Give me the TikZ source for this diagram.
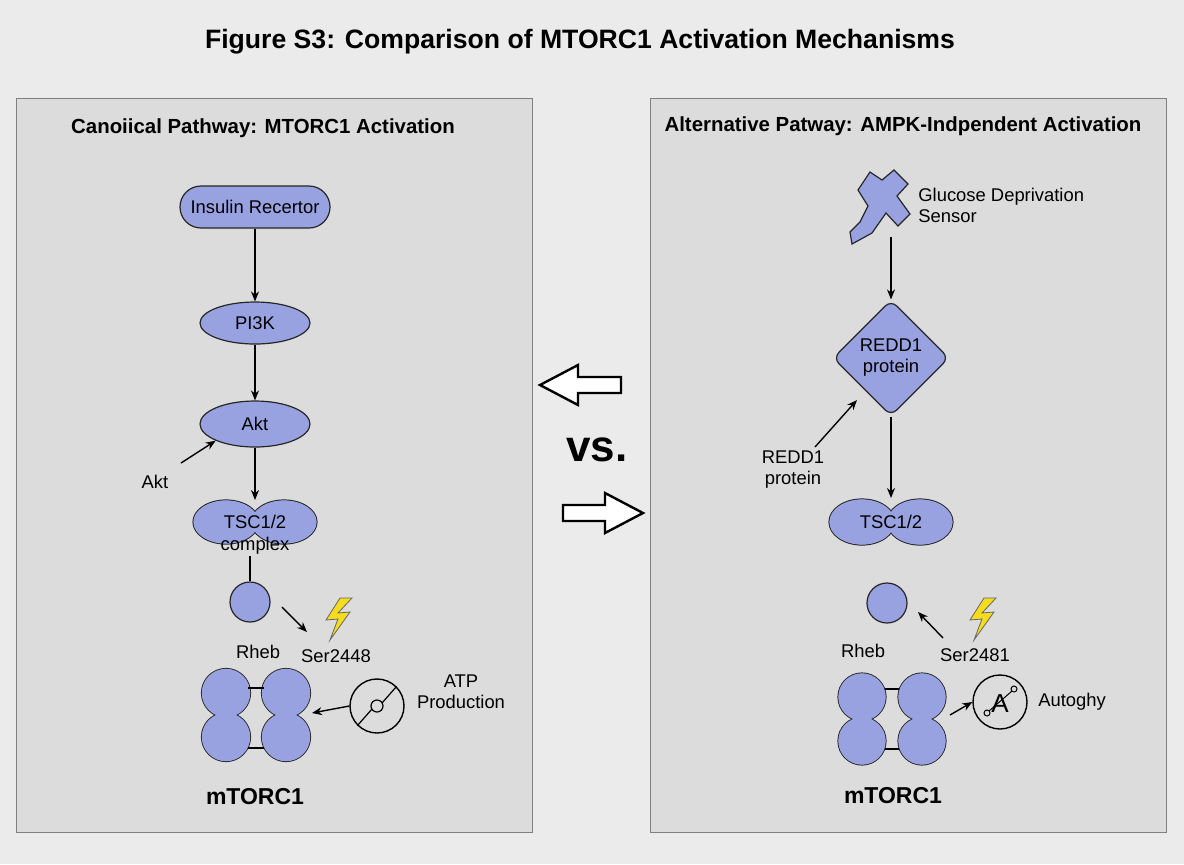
\documentclass[tikz,border=0pt]{standalone}
\usepackage{fontspec}
\setmainfont{Liberation Sans}
\usetikzlibrary{shapes.geometric,arrows.meta}
\definecolor{bgc}{HTML}{EBEBEB}
\definecolor{panel}{HTML}{DCDCDC}
\definecolor{prot}{HTML}{98A2E0}
\definecolor{bolt}{HTML}{F5DC1E}
\begin{document}
\begin{tikzpicture}[x=0.5pt,y=-0.5pt,
  lbl/.style={font=\fontsize{9.2}{10.5}\selectfont,align=center,inner sep=0pt},
  pr/.style={draw=black!85,line width=0.6pt,fill=prot},
  arr/.style={-{Stealth[length=5pt,width=4pt]},line width=0.7pt},
  hd/.style={font=\bfseries\fontsize{10.2}{12}\selectfont}]
\fill[bgc] (0,0) rectangle (1184,864);
\useasboundingbox (0,0) rectangle (1184,864);
\node[font=\bfseries\fontsize{13.3}{15}\selectfont] (title) at (580,42) {Figure S3: Comparison of MTORC1 Activation Mechanisms};
\draw[fill=panel,draw=gray] (16,98) rectangle (532,832);
\draw[fill=panel,draw=gray] (650,98) rectangle (1166,832);
\node[hd] (lh) at (263,128) {Canoiical Pathway: MTORC1 Activation};
\node[hd] (rh) at (903,126) {Alternative Patway: AMPK-Indpendent Activation};
% left
\node[pr,rounded corners=10.5pt,minimum width=75pt,minimum height=21pt,lbl] (ins) at (255,207) {Insulin Recertor};
\node[pr,ellipse,minimum width=55pt,minimum height=21pt,lbl] (pi3k) at (255,323) {PI3K};
\node[pr,ellipse,minimum width=55pt,minimum height=23pt,lbl] (akt) at (255,424) {Akt};
\node[lbl] (akt2) at (155,482) {Akt};
\draw[arr] (ins) -- (pi3k);
\draw[arr] (pi3k) -- (akt);
\coordinate (a0) at (181,463);
\draw[arr] (a0) -- (akt.south west);
\draw[pr] (226,522) ellipse (33 and 22) (284,522) ellipse (33 and 22);
\fill[prot] (226,522) ellipse (32.6 and 21.6) (284,522) ellipse (32.6 and 21.6);
\node[lbl] (tsc) at (255,522) {TSC1/2};
\node[lbl] (cpx) at (255,546) {complex};
\coordinate (tsctop) at (255,500);
\draw[arr] (akt) -- (tsctop);
\node[pr,circle,minimum size=20pt,inner sep=0pt] (rheb) at (250,602) {};
\draw[line width=0.7pt] (250,556) -- (rheb);
\node[lbl] (rhebl) at (258,652) {Rheb};
\node[lbl] (ser) at (336,656) {Ser2448};
\draw[arr] (282,607) -- (307,632);
\draw[fill=bolt,draw=black!60,line width=0.4pt] (340,598)--(326,620)--(338,619)--(330,640)--(350,612)--(338,613)--(352,598)--cycle;
\foreach \x/\n in {226/a,286/b}{
  \node[pr,circle,minimum size=24.5pt,inner sep=0pt] (m\n1) at (\x,693) {};
  \node[pr,circle,minimum size=24.5pt,inner sep=0pt] (m\n2) at (\x,737) {};
  \fill[prot] (\x,693) circle (24.2) (\x,737) circle (24.2);}
\draw[line width=0.6pt] (248,688) -- (264,688) (248,748) -- (264,748);
\node[circle,draw,line width=0.7pt,minimum size=27pt,inner sep=0pt] (atp) at (377,706) {};
\draw[line width=0.6pt] (377,706) circle (6) (atp.south west) -- (372,709) (382,703) -- (atp.north east);
\draw[arr] (atp.west) -- (312,713);
\node[lbl] (atpl) at (461,692) {ATP\\Production};
\node[font=\bfseries\fontsize{11.5}{13}\selectfont] (ml) at (255,797) {mTORC1};
% right
\draw[pr] (870,172)--(882,180)--(894,170)--(908,184)--(897,196)--(910,214)--(898,226)--(886,213)--(872,233)--(852,244)--(850,232)--(860,222)--(868,206)--(858,190)--cycle;
\coordinate (xs) at (891,237);
\node[lbl,anchor=west,align=left] (gds) at (918,205) {Glucose Deprivation\\Sensor};
\node[pr,diamond,rounded corners=4pt,minimum width=58pt,minimum height=58pt,inner sep=0pt,lbl] (redd) at (891,358) {REDD1\\protein};
\draw[arr] (xs) -- (redd.north);
\node[lbl] (redl) at (793,470) {REDD1\\protein};
\draw[arr] (815,447) -- (857,400);
\draw[pr] (862,522) ellipse (33 and 23) (920,522) ellipse (33 and 23);
\fill[prot] (862,522) ellipse (32.6 and 22.6) (920,522) ellipse (32.6 and 22.6);
\node[lbl] (tsc2) at (891,522) {TSC1/2};
\draw[arr] (redd.south) -- (891,498);
\node[pr,circle,minimum size=20pt,inner sep=0pt] (rheb2) at (887,603) {};
\node[lbl] (rhebl2) at (863,651) {Rheb};
\node[lbl] (ser2) at (975,655) {Ser2481};
\draw[arr] (943,638) -- (918,612);
\draw[fill=bolt,draw=black!60,line width=0.4pt] (984,598)--(970,620)--(982,619)--(974,640)--(994,612)--(982,613)--(996,598)--cycle;
\foreach \x/\n in {862/c,922/d}{
  \node[pr,circle,minimum size=24pt,inner sep=0pt] (m\n1) at (\x,697) {};
  \node[pr,circle,minimum size=24pt,inner sep=0pt] (m\n2) at (\x,741) {};
  \fill[prot] (\x,697) circle (23.7) (\x,741) circle (23.7);}
\draw[line width=0.6pt] (885,689) -- (899,689) (885,749) -- (899,749);
\node[circle,draw,line width=0.7pt,minimum size=27pt,inner sep=0pt] (aut) at (1000,702) {};
\node[font=\fontsize{13}{13}\selectfont] (A) at (1000,704) {A};
\draw[line width=0.5pt] (987,713) circle (3) (1014,689) circle (3) (989,711)--(1012,691);
\draw[arr] (950,715) -- (aut.west);
\node[lbl] (autl) at (1072,702) {Autoghy};
\node[font=\bfseries\fontsize{11.5}{13}\selectfont] (ml2) at (893,796) {mTORC1};
% center
\draw[line width=1.2pt,fill=white] (540,385)--(578,365)--(578,377)--(621,377)--(621,393)--(578,393)--(578,405)--cycle;
\draw[line width=1.2pt,fill=white] (643,513)--(605,493)--(605,505)--(563,505)--(563,521)--(605,521)--(605,533)--cycle;
\node[font=\bfseries\fontsize{22}{24}\selectfont] (vs) at (597,450) {vs.};
\end{tikzpicture}
\end{document}
